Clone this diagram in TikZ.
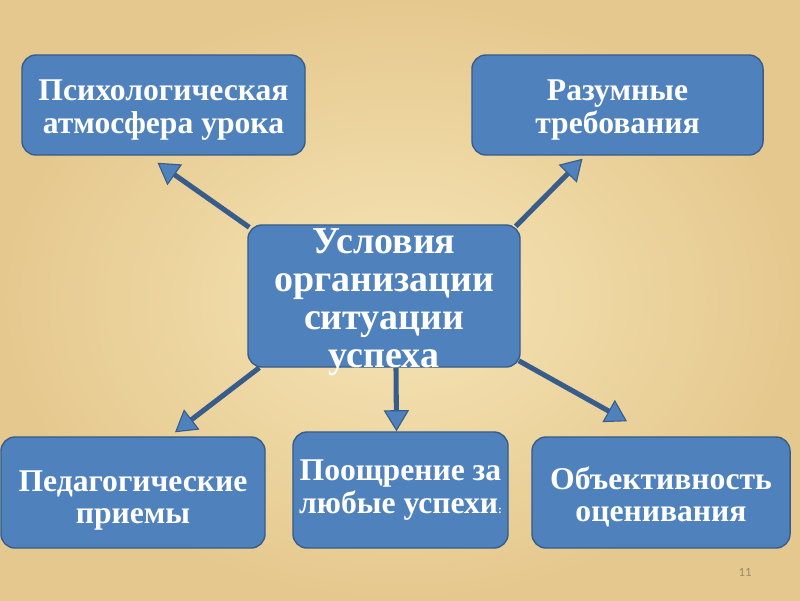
\documentclass[tikz,border=0pt]{standalone}
\usepackage{fontspec}
\setmainfont{Liberation Serif}
\newfontfamily\numfont{Carlito}
\usetikzlibrary{arrows.meta, calc}

\definecolor{parchment}{RGB}{246,229,182}
\definecolor{parchmentdark}{RGB}{229,200,142}
\definecolor{boxblue}{RGB}{79,129,189}
\definecolor{boxedge}{RGB}{56,93,138}
\definecolor{pagegray}{RGB}{150,138,112}

\newcommand{\topgap}[1]{\rule{0pt}{#1}}

\begin{document}
\begin{tikzpicture}[x = 0.025cm, y = -0.025cm,
	box/.style = {draw = boxedge, line width = 1pt, fill = boxblue, rounded corners = 10pt,
		text = white, align = center, inner sep = 0pt, font = \bfseries\fontsize{22.5}{23}\selectfont},
	arrow/.style = {draw = boxedge, line width = 3.6pt,
		-{Triangle[length = 15pt, width = 18pt, fill = boxblue, line width = 0.8pt 0 1]},
		postaction = {draw = boxblue, line width = 1.6pt, -, shorten > = 14pt}}]

	% Parchment background

	\useasboundingbox (0, 0) rectangle (800, 600);
	\shade [inner color = parchment, outer color = parchmentdark] (0, 0) rectangle (800, 600);

	% Boxes

	\node [box, minimum width = 7.075cm, minimum height = 2.5cm] (psy) at (163.5, 105) {\topgap{22pt}Психологическая\\атмосфера урока};
	\node [box, minimum width = 7.275cm, minimum height = 2.5cm] (razum) at (617.5, 105) {\topgap{22pt}Разумные\\требования};
	\node [box, minimum width = 6.8cm, minimum height = 3.55cm, inner ysep = -8pt,
		font = \bfseries\fontsize{27}{27}\selectfont] (usl) at (384, 296) {\topgap{27pt}Условия\\организации\\ситуации\\успеха};
	\node [box, minimum width = 6.6cm, minimum height = 2.775cm] (ped) at (133, 492.5) {\topgap{26pt}Педагогические\\приемы};
	\node [box, minimum width = 5.375cm, minimum height = 2.9cm] (poo) at (400.5, 490) {Поощрение за\\любые успехи{\fontsize{8}{8}\selectfont:}};
	\node [box, minimum width = 6.45cm, minimum height = 2.775cm] (obj) at (661, 492.5) {\topgap{22pt}Объективность\\оценивания};

	% Arrows from the centre

	\begin{scope}[arrow]

		\draw ($(usl.north west) + (2, 3)$) -- ($(psy.south) + (-6, 7)$);
		\draw ($(usl.north east) + (-5, 2)$) -- ($(razum.south) + (-35, 3)$);
		\draw ($(usl.south west) + (12, 0)$) -- ($(ped.north) + (42, -4)$);
		\draw ($(usl.south) + (12, 0)$) -- ($(poo.north) + (-4, 0)$);
		\draw ($(usl.south east) + (-2, -7)$) -- ($(obj.north) + (-34, -15)$);

	\end{scope}

	% Page number

	\node [text = pagegray, font = \numfont\fontsize{9}{9}\selectfont] (page) at (745, 572) {11};

\end{tikzpicture}
\end{document}
